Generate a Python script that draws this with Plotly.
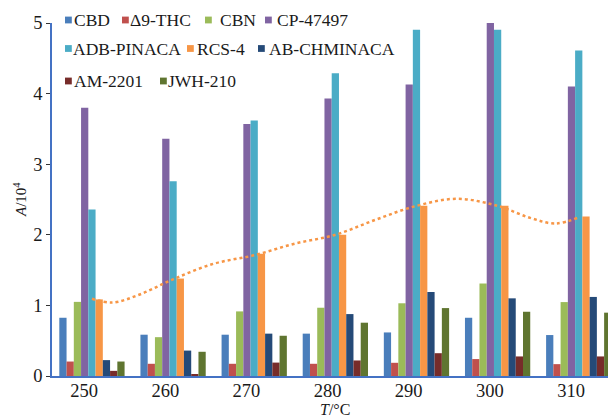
import plotly.graph_objects as go

# ---- data ----
temps = [250, 260, 270, 280, 290, 300, 310]
series_names = ["CBD", "Δ9-THC", "CBN", "CP-47497", "ADB-PINACA",
                "RCS-4", "AB-CHMINACA", "AM-2201", "JWH-210"]
CBD = [0.825, 0.585, 0.585, 0.60, 0.617, 0.825, 0.58]
THC = [0.205, 0.173, 0.173, 0.173, 0.187, 0.24, 0.168]
CBN = [1.05, 0.55, 0.915, 0.967, 1.03, 1.31, 1.047]
CP47497 = [3.80, 3.36, 3.57, 3.93, 4.13, 5.01, 4.10]
ADB_PINACA = [2.36, 2.76, 3.62, 4.29, 4.905, 4.905, 4.61]
RCS4 = [1.085, 1.38, 1.73, 2.0, 2.41, 2.41, 2.26]
AB_CHMINACA = [0.225, 0.36, 0.60, 0.877, 1.19, 1.10, 1.12]
AM2201 = [0.073, 0.02, 0.19, 0.22, 0.323, 0.277, 0.277]
JWH210 = [0.205, 0.343, 0.57, 0.755, 0.962, 0.91, 0.897]

# dotted trend curve of RCS-4
trend_T = [250, 252.5, 255.9, 260, 265, 270, 275, 280, 285, 290, 295, 300, 304, 307.1, 310.1]
trend_A = [1.095, 1.04, 1.155, 1.37, 1.59, 1.71, 1.875, 2.0, 2.215, 2.41, 2.51, 2.41, 2.24, 2.16, 2.25]

y_ticks = [0, 1, 2, 3, 4, 5]
x_title = "<i>T</i>/°C"
y_title = "<i>A</i>/10<sup>4</sup>"

colors = ["#4a7ebb", "#c0504d", "#9bbb59", "#8064a2", "#4bacc6",
          "#f79646", "#254a78", "#772c2a", "#5f7530"]

values = [CBD, THC, CBN, CP47497, ADB_PINACA, RCS4, AB_CHMINACA, AM2201, JWH210]

FONT = '"Liberation Serif", "Times New Roman", serif'
W, H = 608, 419
ML, MR, MT, MB = 52, 0, 23, 43

# legend layout (pixel positions of square left edge, text left edge, row centre)
legend_sq_x = [65, 122, 205, 265, 65, 187, 258, 65, 160]
legend_tx_x = [74, 130, 220, 277, 73, 197, 269, 74, 168]
legend_row_y = [20, 20, 20, 20, 48.5, 48.5, 48.5, 81, 81]

bar_w = 0.894
first_off = -3.07
center_off = first_off + 4.5 * bar_w


def px_to_paper_x(px):
    return (px - ML) / (W - ML - MR)


def px_to_paper_y(py):
    return (H - MB - py) / (H - MT - MB)


fig = go.Figure()
for i, (name, vals) in enumerate(zip(series_names, values)):
    fig.add_trace(go.Bar(
        x=temps, y=vals, name=name,
        marker=dict(color=colors[i], line=dict(width=0)),
        width=bar_w, offset=first_off + i * bar_w,
        showlegend=False,
    ))

fig.add_trace(go.Scatter(
    x=[t + center_off for t in trend_T], y=trend_A, name="RCS-4 trend",
    mode="lines", line=dict(color="#f79646", width=2.5, dash="dot", shape="spline"),
    showlegend=False,
))

# legend drawn as squares + labels
SQ = 6.8
shapes = []
annotations = []
for i, name in enumerate(series_names):
    x0 = legend_sq_x[i]
    yc = legend_row_y[i]
    shapes.append(dict(type="rect", xref="paper", yref="paper",
                       x0=px_to_paper_x(x0), x1=px_to_paper_x(x0 + SQ),
                       y0=px_to_paper_y(yc + SQ / 2), y1=px_to_paper_y(yc - SQ / 2),
                       fillcolor=colors[i], line=dict(width=0), layer="above"))
    annotations.append(dict(text=name, xref="paper", yref="paper",
                            x=px_to_paper_x(legend_tx_x[i] - 2), y=px_to_paper_y(yc),
                            xanchor="left", yanchor="middle", showarrow=False,
                            font=dict(family=FONT, size=17.5, color="#1a1a1a")))

# axis titles
annotations.append(dict(text=x_title, xref="paper", yref="paper",
                        x=px_to_paper_x(335), y=px_to_paper_y(419),
                        xanchor="center", yanchor="bottom", showarrow=False,
                        borderpad=0,
                        font=dict(family=FONT, size=16, color="#1a1a1a")))
annotations.append(dict(text=y_title, xref="paper", yref="paper",
                        x=px_to_paper_x(20), y=px_to_paper_y(200), textangle=-90,
                        xanchor="center", yanchor="middle", showarrow=False,
                        font=dict(family=FONT, size=15, color="#1a1a1a")))

fig.update_layout(
    width=W, height=H,
    margin=dict(l=ML, r=MR, t=MT, b=MB, autoexpand=False),
    paper_bgcolor="white", plot_bgcolor="white",
    barmode="overlay",
    showlegend=False,
    font=dict(family=FONT, size=18.5, color="#1a1a1a"),
    shapes=shapes,
    annotations=annotations,
    xaxis=dict(range=[246.03, 314.56], tickvals=temps, ticktext=[str(t) for t in temps],
               showline=True, linecolor="#4472c4", linewidth=1.5, ticks="",
               ticklabelstandoff=-3,
               showgrid=False, zeroline=False, automargin=False),
    yaxis=dict(range=[0, 5], tickvals=y_ticks, showline=True, linecolor="#4472c4",
               linewidth=1.5, ticks="outside", ticklen=4, tickcolor="#333333",
               showgrid=False, zeroline=False, automargin=False),
)

fig.write_html("out.html")
